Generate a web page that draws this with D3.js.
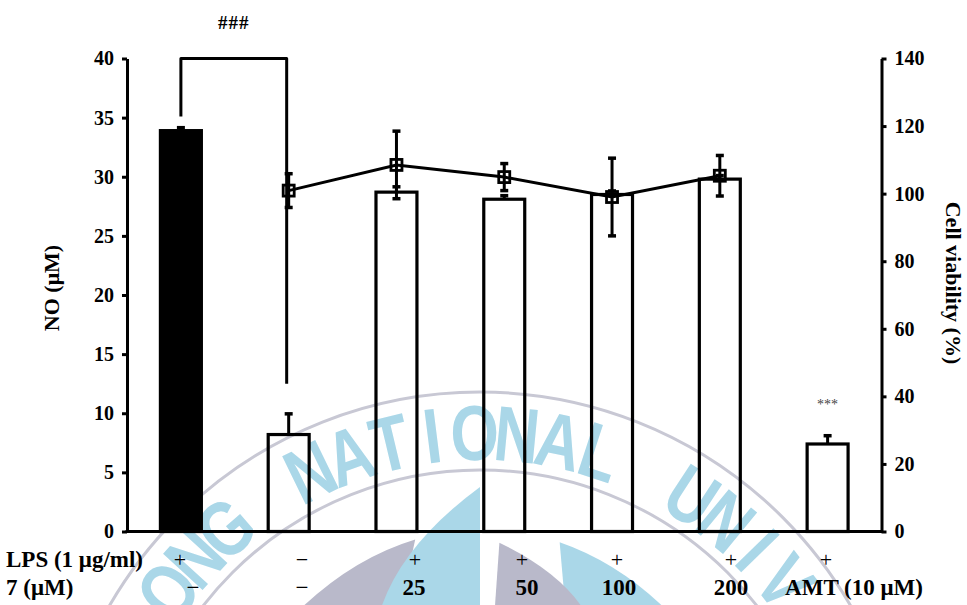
<!DOCTYPE html>
<html>
<head>
<meta charset="utf-8">
<script src="https://cdn.jsdelivr.net/npm/d3@7"></script>
<style>
  html, body { margin: 0; padding: 0; background: #fff; }
  svg { display: block; }
  text { font-family: "Liberation Serif", "Times New Roman", serif; }
</style>
</head>
<body>
<svg id="chart" width="967" height="605"></svg>
<script>
// ---- data ----
const groups = ["LPS", "Control", "7-25", "7-50", "7-100", "7-200", "AMT"];
const lpsRow = ["+", "\u2212", "+", "+", "+", "+", "+"];
const doseRow = ["\u2212", "\u2212", "25", "50", "100", "200", "AMT (10 \u03bcM)"];

// nitric oxide (bars, left axis)
const noValues = [33.9, 8.2, 28.7, 28.1, 28.5, 29.8, 7.4];
const noErrors = [0.25, 1.75, 0.45, 0.3, 0.3, 0.3, 0.7];

// cell viability (line, right axis)
const viabilityGroups = ["Control", "7-25", "7-50", "7-100", "7-200"];
const viabilityValues = [100.9, 108.5, 104.9, 99.0, 105.3];
const viabilityErrors = [5, 10, 4, 11.5, 6];

const noTicks = [0, 5, 10, 15, 20, 25, 30, 35, 40];
const viabilityTicks = [0, 20, 40, 60, 80, 100, 120, 140];

// ---- layout ----
const plotLeft = 127, plotRight = 881.5, plotTop = 58.5, plotBottom = 531.5;
const lpsRowX = [180, 302, 415, 522, 617, 731, 826];
const doseRowX = [193, 302, 414, 527, 619, 731, 854];

const svg = d3.select("#chart");

const x = d3.scaleBand().domain(groups).range([plotLeft, plotRight])
  .paddingInner(0.62).paddingOuter(0.31);
const yNO = d3.scaleLinear().domain([0, 40]).range([plotBottom, plotTop]);
const yCV = d3.scaleLinear().domain([0, 140]).range([plotBottom, plotTop]);
const cx = g => x(g) + x.bandwidth() / 2;

// ---- faint university seal in the background ----
const seal = svg.append("g").attr("class", "seal");
const sc = { x: 480, y: 820 };
const polar = (r, deg) => {
  const a = deg * Math.PI / 180;
  return [sc.x + r * Math.sin(a), sc.y - r * Math.cos(a)];
};
const sealBlue = "#aad7e8", sealGrey = "#b9b9ca";
[428, 350].forEach(r => {
  seal.append("circle").attr("cx", sc.x).attr("cy", sc.y).attr("r", r)
    .attr("fill", "none").attr("stroke", "#c8c8d4").attr("stroke-width", 3);
});
// pinwheel blades (polar points: [radius, degrees])
const blade = (pts, color) => {
  const p = d3.path();
  const q = pts.map(d => polar(...d));
  p.moveTo(...q[0]);
  p.quadraticCurveTo(...q[1], ...q[2]);
  for (let k = 3; k < q.length; k++) p.lineTo(...q[k]);
  p.closePath();
  seal.append("path").attr("d", p.toString()).attr("fill", color);
};
blade([[288, -13], [293, -28], [276, -46], [120, -62], [190, -28]], sealGrey);
blade([[289, 16], [294, 30], [280, 46], [120, 62], [190, 28]], sealBlue);
blade([[333, 0], [270, -30], [150, -42], [150, 0]], sealBlue);
blade([[278, 4], [262, 36], [150, 46], [150, 4]], sealGrey);

// ring lettering, one glyph at a time (only the arc that lies inside the frame)
const sealWords = [
  { word: "ONG", start: -26 - 4 * 6.3 - 2.5 },
  { word: "NATIONAL", start: -26 },
  { word: "UNIV", start: -26 + 9 * 6.3 + 2.5 }
];
sealWords.forEach(({ word, start }) => {
  word.split("").forEach((ch, i) => {
    const deg = start + i * 6.3;
    const [px, py] = polar(360, deg);
    seal.append("text")
      .attr("transform", `translate(${px},${py}) rotate(${deg}) scale(0.8,1)`)
      .attr("text-anchor", "middle")
      .style("font-family", "'Liberation Sans', Arial, sans-serif")
      .style("font-weight", "bold")
      .style("font-size", "78px")
      .attr("fill", sealBlue)
      .text(ch);
  });
});

// ---- bars ----
svg.append("g").selectAll("rect").data(groups).join("rect")
  .attr("x", g => x(g))
  .attr("width", x.bandwidth())
  .attr("y", (g, i) => yNO(noValues[i]))
  .attr("height", (g, i) => yNO(0) - yNO(noValues[i]))
  .attr("fill", (g, i) => i === 0 ? "#000" : "none")
  .attr("stroke", "#000").attr("stroke-width", 3.2);

// bar error bars (upper)
const barErr = svg.append("g").attr("stroke", "#000");
groups.forEach((g, i) => {
  const y0 = yNO(noValues[i]), y1 = yNO(noValues[i] + noErrors[i]);
  barErr.append("line").attr("x1", cx(g)).attr("x2", cx(g)).attr("y1", y0).attr("y2", y1).attr("stroke-width", 3);
  barErr.append("line").attr("x1", cx(g) - 4).attr("x2", cx(g) + 4).attr("y1", y1).attr("y2", y1).attr("stroke-width", 3.5);
});

// ---- axes ----
const axisFont = sel => sel.selectAll("text")
  .style("font-family", "'Liberation Serif', 'Times New Roman', serif")
  .style("font-size", "20px").style("font-weight", "bold").attr("fill", "#000");

const gL = svg.append("g").attr("transform", `translate(${plotLeft},0)`)
  .call(d3.axisLeft(yNO).tickValues(noTicks).tickSize(5).tickSizeOuter(0).tickPadding(8));
const gR = svg.append("g").attr("transform", `translate(${plotRight},0)`)
  .call(d3.axisRight(yCV).tickValues(viabilityTicks).tickSize(5).tickSizeOuter(0).tickPadding(8));
[gL, gR].forEach(g => {
  g.select(".domain").attr("stroke", "#000").attr("stroke-width", 3);
  g.selectAll(".tick line").attr("stroke", "#000").attr("stroke-width", 3);
  axisFont(g);
});
svg.append("line").attr("x1", plotLeft - 1.5).attr("x2", plotRight + 1.5)
  .attr("y1", plotBottom).attr("y2", plotBottom).attr("stroke", "#000").attr("stroke-width", 3);

// ---- viability line ----
const pts = viabilityGroups.map((g, i) => [cx(g), yCV(viabilityValues[i])]);
svg.append("path").attr("d", d3.line()(pts))
  .attr("fill", "none").attr("stroke", "#000").attr("stroke-width", 3);
const cvErr = svg.append("g").attr("stroke", "#000");
viabilityGroups.forEach((g, i) => {
  const yHi = yCV(viabilityValues[i] + viabilityErrors[i]);
  const yLo = yCV(viabilityValues[i] - viabilityErrors[i]);
  cvErr.append("line").attr("x1", cx(g)).attr("x2", cx(g)).attr("y1", yLo).attr("y2", yHi).attr("stroke-width", 3);
  [yHi, yLo].forEach(yy => cvErr.append("line")
    .attr("x1", cx(g) - 4).attr("x2", cx(g) + 4).attr("y1", yy).attr("y2", yy).attr("stroke-width", 3.5));
});
svg.append("g").selectAll("rect").data(pts).join("rect")
  .attr("x", d => d[0] - 5.5).attr("y", d => d[1] - 5.5)
  .attr("width", 11).attr("height", 11)
  .attr("fill", "none").attr("stroke", "#000").attr("stroke-width", 2.8);

// ---- significance bracket ----
const bx0 = cx(groups[0]), bx1 = cx(groups[1]) - 2;
svg.append("path")
  .attr("d", `M${bx0},${yNO(35.1)}V${yNO(40)}H${bx1}V${yNO(12.5)}`)
  .attr("fill", "none").attr("stroke", "#000").attr("stroke-width", 3)
  .attr("stroke-linejoin", "round");
svg.append("text").attr("x", (bx0 + bx1) / 2).attr("y", 29)
  .attr("text-anchor", "middle").style("font-size", "19px").style("font-weight", "bold")
  .style("letter-spacing", "1px").text("###");
svg.append("text").attr("x", cx(groups[6])).attr("y", 409)
  .attr("text-anchor", "middle").style("font-size", "14px").attr("fill", "#444").text("***");

// ---- axis titles ----
svg.append("text").attr("transform", "translate(59,288) rotate(-90)")
  .attr("text-anchor", "middle").style("font-size", "22px").style("font-weight", "bold")
  .text("NO (\u03bcM)");
svg.append("text").attr("transform", "translate(946,283) rotate(90)")
  .attr("text-anchor", "middle").style("font-size", "22px").style("font-weight", "bold")
  .text("Cell viability (%)");

// ---- treatment table ----
svg.append("text").attr("x", 6).attr("y", 567)
  .style("font-size", "23px").style("font-weight", "bold").text("LPS (1 \u03bcg/ml)");
svg.append("text").attr("x", 6).attr("y", 595)
  .style("font-size", "23px").style("font-weight", "bold").text("7 (\u03bcM)");
svg.append("g").selectAll("text").data(lpsRow).join("text")
  .attr("x", (d, i) => lpsRowX[i]).attr("y", 567)
  .attr("text-anchor", "middle").style("font-size", "22px").text(d => d);
svg.append("g").selectAll("text").data(doseRow).join("text")
  .attr("x", (d, i) => doseRowX[i]).attr("y", 595)
  .attr("text-anchor", "middle").style("font-size", "23px")
  .style("font-weight", d => d === "\u2212" ? "normal" : "bold").text(d => d);
</script>
</body>
</html>
